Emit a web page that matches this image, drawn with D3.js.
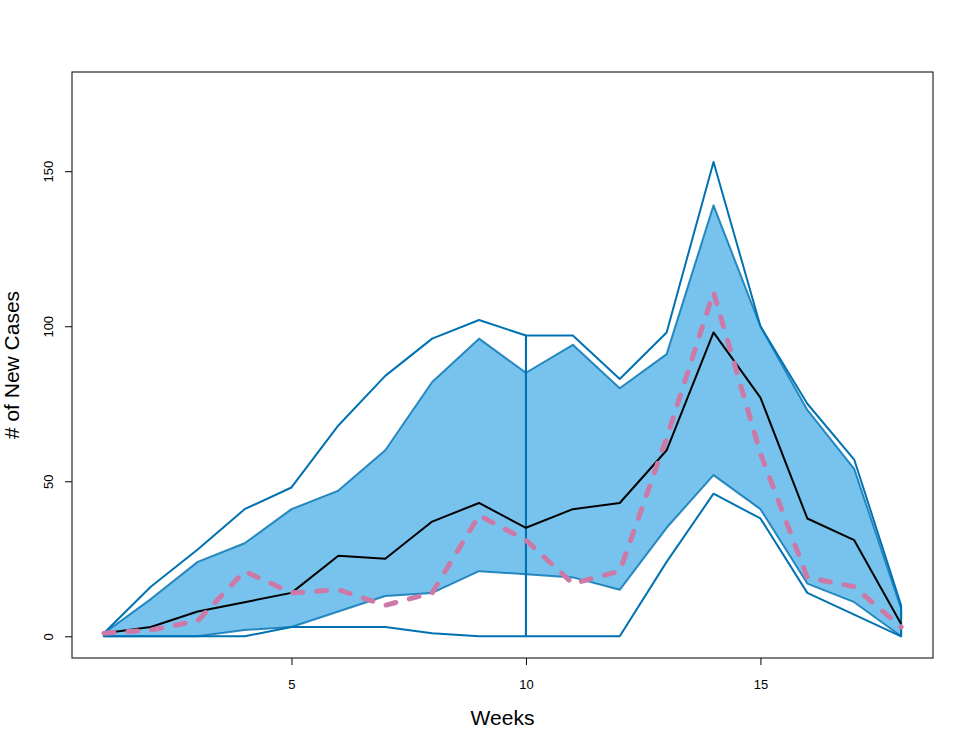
<!DOCTYPE html>
<html>
<head>
<meta charset="utf-8">
<script src="https://cdn.jsdelivr.net/npm/d3@7"></script>
<style>
  body { margin: 0; background: #fff; }
  text { font-family: 'Liberation Sans', Arial, sans-serif; }
</style>
</head>
<body>
<main></main>
<script>
const weeks = [1, 2, 3, 4, 5, 6, 7, 8, 9, 10, 11, 12, 13, 14, 15, 16, 17, 18];
const outerUpper = [1, 16, 28, 41, 48, 68, 84, 96, 102, 97, 97, 83, 98, 153, 100, 75, 57, 10];
const innerUpper = [1, 12, 24, 30, 41, 47, 60, 82, 96, 85, 94, 80, 91, 139, 100, 73, 54, 9];
const median = [1, 3, 8, 11, 14, 26, 25, 37, 43, 35, 41, 43, 60, 98, 77, 38, 31, 4];
const observed = [1, 2, 5, 21, 14, 15, 10, 14, 39, 31, 17, 21, 64, 111, 59, 19, 16, 3];
const innerLower = [0, 0, 0, 2, 3, 8, 13, 14, 21, 20, 19, 15, 35, 52, 41, 17, 11, 0];
const outerLower = [0, 0, 0, 0, 3, 3, 3, 1, 0, 0, 0, 0, 24, 46, 38, 14, 7, 0];
// outer envelope is outlined in two pieces, joined at week 10
const outerPieces = [[1, 10], [10, 18]];
const xTicks = [5, 10, 15];
const yTicks = [0, 50, 100, 150];
const yLimit = [0, 175];

const dimensions = {
  width: 969,
  height: 749,
  margin: { top: 72, right: 36, bottom: 91, left: 72 },
};
dimensions.boundedWidth =
  dimensions.width - (dimensions.margin.left + dimensions.margin.right);
dimensions.boundedHeight =
  dimensions.height - (dimensions.margin.top + dimensions.margin.bottom);

// R style 4% padding on both ends
const pad = ([a, b]) => [a - (b - a) * 0.04, b + (b - a) * 0.04];

const xScale = d3
  .scaleLinear()
  .domain(pad(d3.extent(weeks)))
  .range([0, dimensions.boundedWidth]);

const yScale = d3
  .scaleLinear()
  .domain(pad(yLimit))
  .range([dimensions.boundedHeight, 0]);

const rows = weeks.map((week, i) => ({
  week,
  outerUpper: outerUpper[i],
  innerUpper: innerUpper[i],
  median: median[i],
  observed: observed[i],
  innerLower: innerLower[i],
  outerLower: outerLower[i],
}));

const band = (hi, lo) => d3
  .area()
  .x(d => xScale(d.week))
  .y0(d => yScale(d[lo]))
  .y1(d => yScale(d[hi]));

const lineFor = key => d3
  .line()
  .x(d => xScale(d.week))
  .y(d => yScale(d[key]));

// closed outline: upper forward, lower back
const outline = (data, hi, lo) => {
  const pts = [
    ...data.map(d => [xScale(d.week), yScale(d[hi])]),
    ...data.slice().reverse().map(d => [xScale(d.week), yScale(d[lo])]),
  ];
  return d3.line()(pts) + 'Z';
};

const svg = d3
  .select('main')
  .append('svg')
  .attr('width', dimensions.width)
  .attr('height', dimensions.height);

const bounds = svg
  .append('g')
  .attr('transform', `translate(${dimensions.margin.left} ${dimensions.margin.top})`);

bounds
  .append('path')
  .attr('d', band('innerUpper', 'innerLower')(rows))
  .attr('fill', '#56B4E9')
  .attr('fill-opacity', 0.8)
  .attr('stroke', '#0072B2')
  .attr('stroke-opacity', 0.8)
  .attr('stroke-width', 2)
  .attr('stroke-linejoin', 'round');

outerPieces.forEach(([from, to]) => {
  bounds
    .append('path')
    .attr('d', outline(rows.filter(d => d.week >= from && d.week <= to), 'outerUpper', 'outerLower'))
    .attr('fill', 'none')
    .attr('stroke', '#0072B2')
    .attr('stroke-width', 2)
    .attr('stroke-linejoin', 'round');
});

bounds
  .append('path')
  .attr('d', lineFor('median')(rows))
  .attr('fill', 'none')
  .attr('stroke', '#000')
  .attr('stroke-width', 2)
  .attr('stroke-linejoin', 'round');

bounds
  .append('path')
  .attr('d', lineFor('observed')(rows))
  .attr('fill', 'none')
  .attr('stroke', '#CC79A7')
  .attr('stroke-width', 5)
  .attr('stroke-dasharray', '10 14')
  .attr('stroke-linecap', 'round')
  .attr('stroke-linejoin', 'round');

// box
bounds
  .append('rect')
  .attr('x', 0)
  .attr('y', 0)
  .attr('width', dimensions.boundedWidth)
  .attr('height', dimensions.boundedHeight)
  .attr('fill', 'none')
  .attr('stroke', '#000')
  .attr('stroke-width', 1);

const xAxis = d3
  .axisBottom(xScale)
  .tickValues(xTicks)
  .tickSize(7)
  .tickPadding(15);

const xAxisGroup = bounds
  .append('g')
  .attr('transform', `translate(0 ${dimensions.boundedHeight})`)
  .call(xAxis);

xAxisGroup.select('.domain').remove();
xAxisGroup.selectAll('text').attr('font-size', 13).attr('fill', '#000');

const yAxis = d3
  .axisLeft(yScale)
  .tickValues(yTicks)
  .tickSize(7);

const yAxisGroup = bounds.append('g').call(yAxis);
yAxisGroup.select('.domain').remove();
yAxisGroup
  .selectAll('text')
  .attr('x', null)
  .attr('dy', null)
  .attr('text-anchor', 'middle')
  .attr('font-size', 13)
  .attr('fill', '#000')
  .attr('transform', 'translate(-19 0) rotate(-90)');

bounds
  .append('text')
  .attr('x', dimensions.boundedWidth / 2)
  .attr('y', dimensions.boundedHeight + 67)
  .attr('text-anchor', 'middle')
  .attr('font-size', 21)
  .text('Weeks');

bounds
  .append('text')
  .attr('transform', `translate(-53 ${dimensions.boundedHeight / 2}) rotate(-90)`)
  .attr('text-anchor', 'middle')
  .attr('font-size', 21)
  .text('# of New Cases');
</script>
</body>
</html>
